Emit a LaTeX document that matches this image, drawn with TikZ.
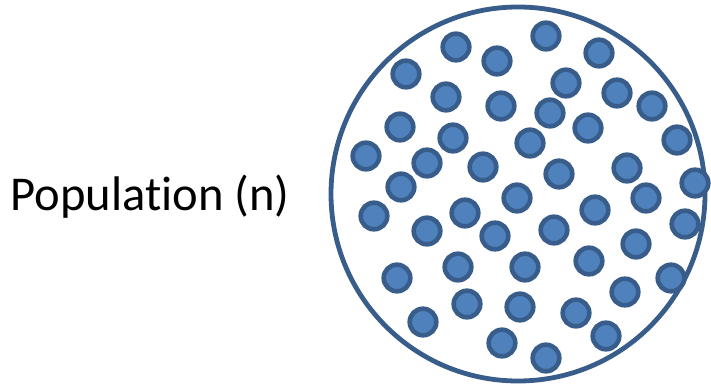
\documentclass[tikz,border=0pt]{standalone}
\usepackage{fontspec}
\setmainfont{Carlito}[Ligatures=NoCommon]
\usepackage{tikz}
\usetikzlibrary{positioning}
\definecolor{dotblue}{RGB}{79,129,189}
\definecolor{rimblue}{RGB}{56,93,138}

\begin{document}
\begin{tikzpicture}[
  x=0.5pt, y=-0.5pt,
  ring/.style={
    draw=rimblue, line width=2.4pt, circle,
    minimum size=187pt, inner sep=0pt
  },
  member/.style={
    draw=rimblue, fill=dotblue, line width=2.3pt, circle,
    minimum size=13.3pt, inner sep=0pt
  },
  caption/.style={font=\fontsize{24.3}{29}\selectfont, inner sep=0pt},
]
\useasboundingbox (0,0) rectangle (711,385);

\node[ring] (population) at (518,194) {};
\node[caption, anchor=base west] (label) at (10,210) {Population (n)};

% members of the population
\foreach \px/\py [count=\i] in {
  546/36, 456/47, 497/61, 599/53, 406/74, 566/83, 446/97, 501/106,
  617/93, 550/113, 652/106, 400/127, 588/128, 453/138, 530/143,
  677/140, 366/156, 427/163, 483/167, 559/174, 627/168, 695/183,
  401/187, 517/198, 646/198, 374/216, 465/213, 595/210, 427/231,
  495/236, 554/230, 685/224, 636/244, 458/267, 525/267, 589/261,
  397/278, 671/278, 625/292, 467/304, 520/307, 576/313, 423/322,
  606/336, 502/343, 546/358}
  \node[member] (m\i) at (\px,\py) {};

\end{tikzpicture}
\end{document}
